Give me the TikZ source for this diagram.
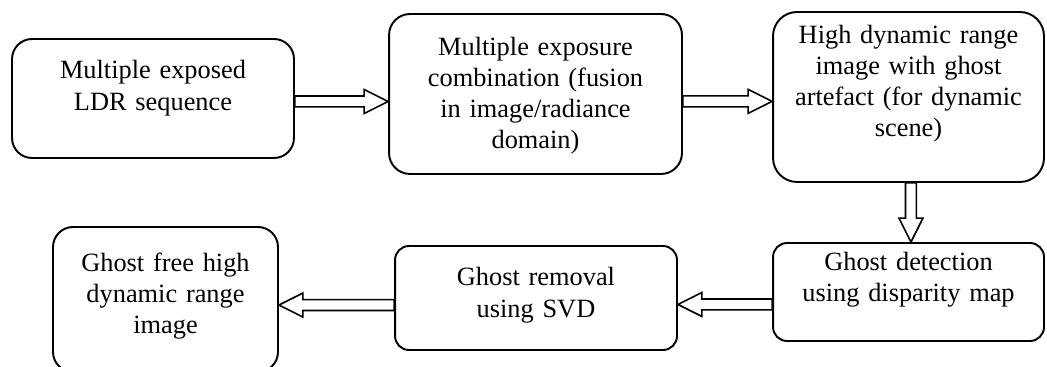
\documentclass[tikz,border=0pt]{standalone}
\usepackage{fontspec}
\setmainfont{Liberation Serif}
\usetikzlibrary{calc}

% hollow block arrow between two points
\def\fashaft{3.1pt}
\def\fahead{6.8pt}
\def\falen{13.6pt}
\newcommand{\fatarrow}[2]{%
  \coordinate (fa-a) at (#1);
  \coordinate (fa-b) at (#2);
  \coordinate (fa-c) at ($(fa-b)!\falen!(fa-a)$);
  \draw[fatline] ($(fa-a)!\fashaft!90:(fa-b)$) -- ($(fa-c)!\fashaft!-90:(fa-a)$)
    -- ($(fa-c)!\fahead!-90:(fa-a)$) -- (fa-b) -- ($(fa-c)!\fahead!90:(fa-a)$)
    -- ($(fa-c)!\fashaft!90:(fa-a)$) -- ($(fa-a)!\fashaft!-90:(fa-b)$) -- cycle;}

\begin{document}
\begin{tikzpicture}[x=0.02cm, y=-0.02cm,
	stage/.style={draw, line width=1.1pt, inner sep=0pt, align=center, text height=0.36cm,
		font=\fontsize{15pt}{17.8pt}\selectfont},
	fatline/.style={draw, line width=0.9pt, line join=miter}]
		\useasboundingbox (0,0) rectangle (1047,367);
		\node[stage, text width=5.64cm, minimum height=2.38cm, text depth=1.14cm, rounded corners=0.4cm] (ldr) at (153,98.5) {Multiple exposed\\LDR sequence};
		\node[stage, text width=5.86cm, minimum height=3.2cm, text depth=1.92cm, rounded corners=0.42cm] (fusion) at (535.5,94) {Multiple exposure\\combination (fusion\\in image/radiance\\domain)};
		\node[stage, text width=5.42cm, minimum height=3.4cm, text depth=2.52cm, rounded corners=0.48cm] (hdr) at (908.5,97) {High dynamic range\\image with ghost\\artefact (for dynamic\\scene)};
		\node[stage, text width=5.42cm, minimum height=1.96cm, text depth=1.24cm, rounded corners=0.28cm] (detect) at (908.5,292) {Ghost detection\\using disparity map};
		\node[stage, text width=5.64cm, minimum height=2.08cm, text depth=0.84cm, rounded corners=0.28cm] (removal) at (536,298) {Ghost removal\\using SVD};
		\node[stage, text width=4.5cm, minimum height=2.9cm, text depth=1.5cm, rounded corners=0.4cm] (result) at (165.5,299.5) {Ghost free high\\dynamic range\\image};

		\fatarrow{[yshift=-1.7pt]ldr.east}{fa-a -| fusion.west}
		\fatarrow{[yshift=-4.2pt]fusion.east}{fa-a -| hdr.west}
		\fatarrow{[xshift=1.4pt]hdr.south}{fa-a |- detect.north}
		\fatarrow{[yshift=-7.1pt]detect.west}{fa-a -| removal.east}
		\fatarrow{[yshift=-4pt]removal.west}{fa-a -| result.east}
\end{tikzpicture}
\end{document}
